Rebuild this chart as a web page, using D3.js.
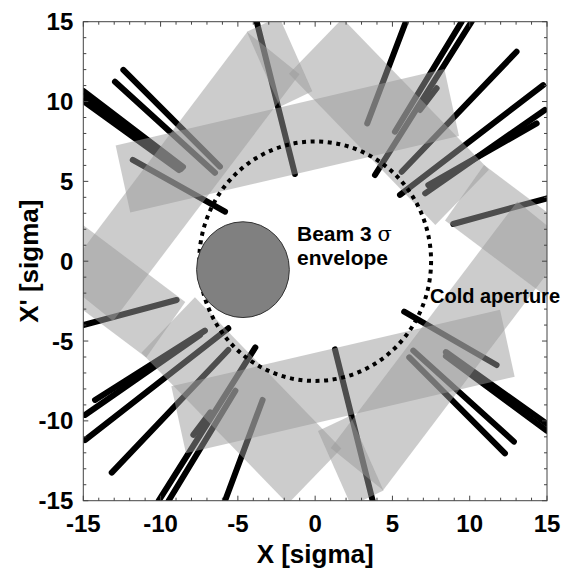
<!DOCTYPE html>
<html><head><meta charset="utf-8">
<script src="https://cdn.jsdelivr.net/npm/d3@7"></script>
<style>body{margin:0;background:#fff;font-family:"Liberation Sans",Arial,sans-serif}</style>
</head><body><svg id="c" width="570" height="569"></svg>
<script>
// axis ticks
const majorTicks = [-15,-10,-5,0,5,10,15];
const minorTicks = d3.range(-15,16,1);
// collimator jaws: normal angle (deg), inner/outer setting (sigma), tangential extent (sigma)
const jawAngle = [102.7, 282.7, 45, 225, 142, 322, 54, 234, 114.6, 294.6];
const jawInner = [5.6, 5.6, 7.1, 7.1, 8.0, 8.0, 7.0, 7.0, 9.75, 9.75];
const jawOuter = [9.9, 9.9, 12.0, 12.0, 12.3, 12.3, 11.3, 11.3, 14.9, 14.9];
const jawT1 = [-10.8, -10.8, -3.9, -3.9, -8.6, -8.6, -17, -17, -4.26, -4.26];
const jawT2 = [11.0, 11.0, 9.5, 9.5, 11, 11, -5.3, -5.3, -1.96, -1.96];
// trajectories
const trajX1 = [-12.41,-12.95,-15,-15,-15,-11.80,-3.78, 5.87, 9.48,10.12,7.86,13.03,14.75,14.86,14.33,15.0, 5.76, 6.35, 6.09, 8.46, 8.46, 1.28,-15.0,-14.24,-14.89,-14.89,-13.16,-9.48,-10.12,-7.88,-5.83];
const trajY1 = [11.98,11.24,10.66,10.34,10.03,6.34,15.0,15.0,15.0,15.0,10.83,13.12,11.03,9.47,8.63,3.94,-3.16,-5.60,-6.02,-5.69,-5.94,-5.52,-4.0,-8.69,-9.63,-11.20,-13.24,-15.0,-15.0,-10.88,-15.0];
const trajX2 = [-6.16,-6.48,-8.55,-8.68,-8.81,-5.83,-1.31,3.37,5.16,3.87,6.78,5.60,5.49,7.12,7.32,8.93,11.74,12.86,12.28,15.0,15.0,3.72,-8.96,-7.13,-7.45,-5.62,-5.62,-5.16,-3.87,-6.78,-3.40];
const trajY2 = [5.92,5.54,5.90,5.77,5.71,3.10,5.46,8.63,8.11,5.40,9.47,5.60,4.15,4.25,4.77,2.33,-6.50,-11.30,-12.03,-10.19,-10.63,-15.0,-2.43,-4.35,-4.62,-4.20,-5.56,-8.11,-5.40,-9.47,-8.69];
const apertureR = 7.5;
const beamCenter = [-4.67, -0.53];
const beamR = 3;

const svg = d3.select('#c');
const L = 83.3, R = 547, T = 21.7, B = 500.7;
const x = d3.scaleLinear().domain([-15,15]).range([L,R]);
const y = d3.scaleLinear().domain([-15,15]).range([B,T]);

svg.append('defs').append('clipPath').attr('id','clip')
  .append('rect').attr('x',L).attr('y',T).attr('width',R-L).attr('height',B-T);
const g = svg.append('g').attr('clip-path','url(#clip)');

g.selectAll('line.tr').data(trajX1.map((d,i)=>i)).join('line')
  .attr('x1',i=>x(trajX1[i])).attr('y1',i=>y(trajY1[i]))
  .attr('x2',i=>x(trajX2[i])).attr('y2',i=>y(trajY2[i]))
  .attr('stroke','#000').attr('stroke-width',6).attr('stroke-linecap','round');

const jawPts = i => {
  const a = jawAngle[i]*Math.PI/180, n=[Math.cos(a),Math.sin(a)], t=[-Math.sin(a),Math.cos(a)];
  const p=(nn,tt)=>[x(n[0]*nn+t[0]*tt), y(n[1]*nn+t[1]*tt)];
  return [p(jawInner[i],jawT1[i]),p(jawInner[i],jawT2[i]),p(jawOuter[i],jawT2[i]),p(jawOuter[i],jawT1[i])];
};
g.selectAll('polygon.jaw').data(jawAngle.map((d,i)=>i)).join('polygon')
  .attr('points',i=>jawPts(i).map(p=>p.join(',')).join(' '))
  .attr('fill','#999').attr('fill-opacity',0.5);

g.append('ellipse').attr('cx',x(0)).attr('cy',y(0))
  .attr('rx',x(apertureR)-x(0)).attr('ry',y(0)-y(apertureR))
  .attr('fill','none').attr('stroke','#000').attr('stroke-width',4).attr('stroke-dasharray','4,4.6');
g.append('ellipse').attr('cx',x(beamCenter[0])).attr('cy',y(beamCenter[1]))
  .attr('rx',x(beamR)-x(0)).attr('ry',y(0)-y(beamR))
  .attr('fill','#808080').attr('stroke','#333').attr('stroke-width',1);

svg.append('rect').attr('x',L).attr('y',T).attr('width',R-L).attr('height',B-T)
  .attr('fill','none').attr('stroke','#444').attr('stroke-width',1);
const tk = svg.append('g').attr('stroke','#444').attr('stroke-width',1);
minorTicks.forEach(v=>{
  const len = majorTicks.includes(v)?5:3;
  tk.append('line').attr('x1',x(v)).attr('x2',x(v)).attr('y1',B).attr('y2',B-len);
  tk.append('line').attr('x1',x(v)).attr('x2',x(v)).attr('y1',T).attr('y2',T+len);
  tk.append('line').attr('y1',y(v)).attr('y2',y(v)).attr('x1',L).attr('x2',L+len);
  tk.append('line').attr('y1',y(v)).attr('y2',y(v)).attr('x1',R).attr('x2',R-len);
});
const tf = 'font-weight:bold;font-size:24px;fill:#000';
majorTicks.forEach(v=>{
  svg.append('text').attr('x',x(v)).attr('y',B+31).attr('text-anchor','middle').attr('style',tf).text(v);
  svg.append('text').attr('x',L-10).attr('y',y(v)+8.5).attr('text-anchor','end').attr('style',tf).text(v);
});
const af = 'font-weight:bold;font-size:26px;fill:#000';
svg.append('text').attr('x',x(0)).attr('y',563).attr('text-anchor','middle').attr('style',af).text('X [sigma]');
svg.append('text').attr('transform',`translate(38,${y(0)}) rotate(-90)`).attr('text-anchor','middle').attr('style',af).text("X' [sigma]");

const lf = 'font-weight:bold;font-size:21px;fill:#000';
const t1 = svg.append('text').attr('x',297).attr('y',241).attr('style',lf);
t1.append('tspan').text('Beam 3 ');
t1.append('tspan').attr('style','font-weight:normal;font-family:"DejaVu Serif",serif').text('σ');
svg.append('text').attr('x',297).attr('y',265).attr('style',lf).text('envelope');
svg.append('text').attr('x',430).attr('y',303).attr('style','font-weight:bold;font-size:20px;fill:#000').text('Cold aperture');
</script></body></html>
